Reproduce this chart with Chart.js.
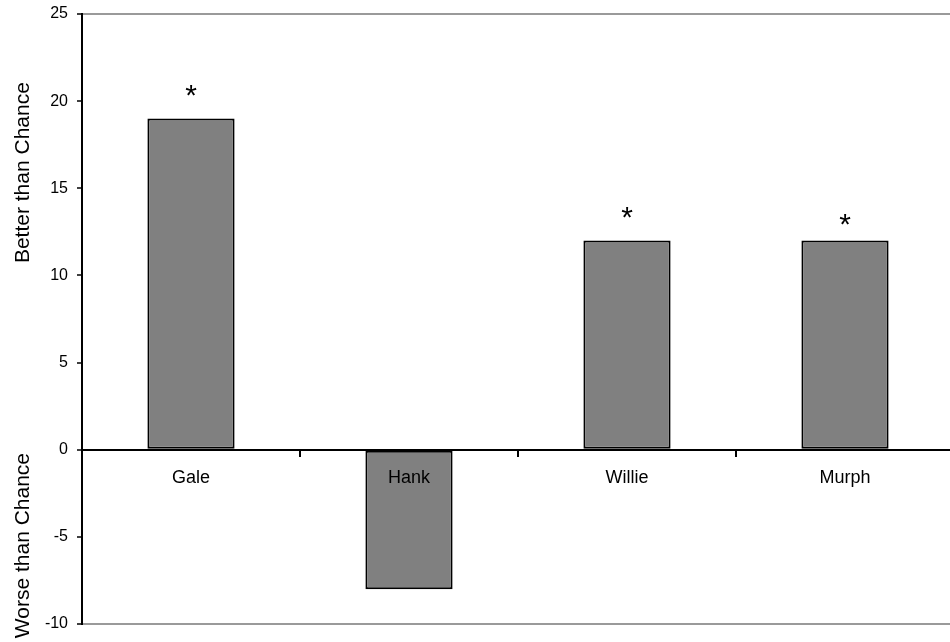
<!DOCTYPE html>
<html>
<head>
<meta charset="utf-8">
<script src="https://cdn.jsdelivr.net/npm/chart.js@4.4.1/dist/chart.umd.min.js"></script>
<style>
  html, body { margin: 0; padding: 0; background: #fff; overflow: hidden; }
  #wrap { width: 954px; height: 642px; }
</style>
</head>
<body>
<div id="wrap"><canvas id="myChart" width="954" height="642"></canvas></div>
<script>
// values
const categories = ['Gale', 'Hank', 'Willie', 'Murph'];
const scores = [19, -8, 12, 12];
const starLevels = [20.8, null, 13.8, 13.4];   // where the "*" sits, null = no star
const yMin = -10;
const yMax = 25;
const yStep = 5;
const titleUpper = 'Better than Chance';
const titleLower = 'Worse than Chance';

const FONT = '"Liberation Sans", Arial, sans-serif';

// stars above the significant bars
const starsPlugin = {
    id: 'stars',
    afterDatasetsDraw(chart){
        const ctx = chart.ctx;
        const y = chart.scales.y;
        const meta = chart.getDatasetMeta(0);
        ctx.save();
        ctx.fillStyle = '#000';
        ctx.font = '30px ' + FONT;
        ctx.textAlign = 'center';
        ctx.textBaseline = 'alphabetic';
        meta.data.forEach((bar, i) => {
            if(starLevels[i] === null) return;
            ctx.fillText('*', bar.x, y.getPixelForValue(starLevels[i]) + 18);
        });
        ctx.restore();
    }
};

// two rotated titles on the left side
const sideTitles = {
    id: 'sideTitles',
    afterDraw(chart){
        const ctx = chart.ctx;
        const y = chart.scales.y;
        ctx.save();
        ctx.fillStyle = '#000';
        ctx.font = '21px ' + FONT;
        ctx.textAlign = 'center';
        ctx.textBaseline = 'middle';
        const put = (txt, val) => {
            ctx.save();
            ctx.translate(23, y.getPixelForValue(val));
            ctx.rotate(-Math.PI / 2);
            ctx.fillText(txt, 0, 0);
            ctx.restore();
        };
        put(titleUpper, 15.9);
        put(titleLower, -5.5);
        ctx.restore();
    }
};

const ctx = document.getElementById('myChart');
let myChart = new Chart(ctx, {
    type: 'bar',
    data: {
        labels: categories,
        datasets: [{
            data: scores,
            backgroundColor: '#808080',
            borderColor: '#000',
            borderWidth: 2,
            borderSkipped: false,
            categoryPercentage: 1,
            barPercentage: 0.4
        }]
    },
    options: {
        responsive: false,
        animation: false,
        layout: { padding: { left: 0, right: 0, top: 14, bottom: 18 } },
        plugins: {
            legend: { display: false },
            tooltip: { enabled: false }
        },
        scales: {
            x: {
                position: { y: 0 },
                afterFit(scale){ scale.height = 0; scale.paddingTop = 0; scale.paddingBottom = 0; },
                border: { display: true, color: '#000', width: 2, z: 1 },
                grid: {
                    display: true,
                    drawOnChartArea: false,
                    drawTicks: true,
                    tickLength: 6,
                    lineWidth: 2,
                    color: '#000',
                    offset: true,
                    z: 1
                },
                ticks: {
                    color: '#000',
                    font: { family: FONT, size: 18 },
                    padding: 12,
                    maxRotation: 0,
                    autoSkip: false,
                    z: 1
                }
            },
            y: {
                min: yMin,
                max: yMax,
                afterFit(scale){ scale.width = 82; scale.paddingTop = 0; scale.paddingBottom = 0; },
                border: { display: true, color: '#000', width: 2 },
                grid: {
                    color: (c) => (c.tick && (c.tick.value === yMax || c.tick.value === yMin)) ? '#9a9a9a' : 'rgba(0,0,0,0)',
                    lineWidth: 2,
                    tickColor: '#000',
                    tickLength: 5,
                    tickWidth: 1.5
                },
                ticks: {
                    stepSize: yStep,
                    color: '#000',
                    font: { family: FONT, size: 16 },
                    padding: 9
                }
            }
        }
    },
    plugins: [starsPlugin, sideTitles]
});
</script>
</body>
</html>
